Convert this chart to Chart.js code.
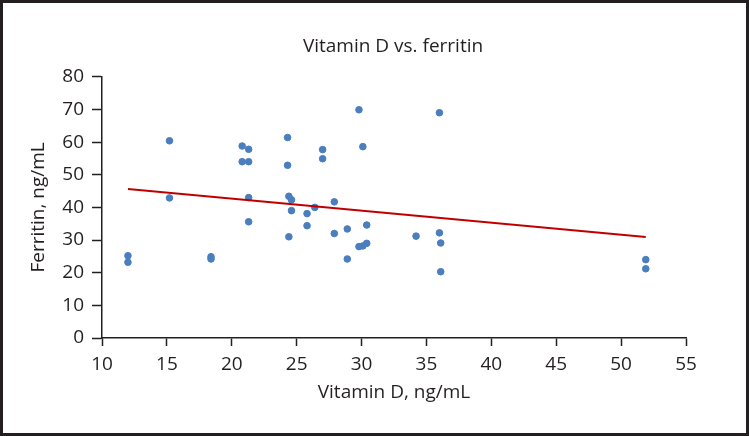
<!DOCTYPE html>
<html>
<head>
<meta charset="utf-8">
<script src="https://cdn.jsdelivr.net/npm/chart.js@4.4.1/dist/chart.umd.min.js"></script>
<style>
  html, body { margin: 0; padding: 0; background: #fff; }
  #wrap { width: 749px; height: 436px; }
</style>
</head>
<body>
<div id="wrap"><canvas id="chart" width="749" height="436"></canvas></div>
<script>
// values
const vitaminD = [
  12.0, 12.0, 15.2, 15.2, 18.4, 18.4, 20.8, 20.8, 21.3, 21.3,
  21.3, 21.3, 24.3, 24.3, 24.4, 24.6, 24.6, 24.4, 25.8, 25.8,
  26.4, 27.0, 27.0, 27.9, 27.9, 28.9, 28.9, 29.8, 29.8, 30.1,
  30.1, 30.4, 30.4, 34.2, 36.0, 36.0, 36.1, 36.1, 51.9, 51.9
]
const ferritin = [
  25.2, 23.2, 60.4, 42.9, 24.9, 24.2, 58.8, 54.0, 57.8, 54.0,
  43.0, 35.6, 61.4, 52.9, 43.4, 42.3, 39.0, 31.0, 38.1, 34.4,
  40.0, 57.7, 54.9, 41.7, 32.0, 33.4, 24.2, 69.9, 28.0, 58.6,
  28.2, 34.6, 29.0, 31.2, 69.0, 32.2, 29.1, 20.3, 24.0, 21.2
]
// trend line end points
const trendX = [12.0, 51.9]
const trendY = [45.6, 30.9]

const xTicks = [10, 15, 20, 25, 30, 35, 40, 45, 50, 55]
const yTicks = [0, 10, 20, 30, 40, 50, 60, 70, 80]

const ink = '#231f20'
const fontFamily = '"Open Sans", "Noto Sans", sans-serif'

const points = vitaminD.map((v, i) => ({ x: v, y: ferritin[i] }))
const trend = trendX.map((v, i) => ({ x: v, y: trendY[i] }))

// white background plus the dark frame round the picture
const framePlugin = {
  id: 'frame',
  beforeDraw(chart) {
    const ctx = chart.ctx
    ctx.save()
    ctx.fillStyle = '#fff'
    ctx.fillRect(0, 0, chart.width, chart.height)
    ctx.restore()
  },
  afterDraw(chart) {
    const ctx = chart.ctx
    ctx.save()
    ctx.strokeStyle = ink
    ctx.lineWidth = 3
    ctx.strokeRect(1.5, 1.5, chart.width - 3, chart.height - 3)
    ctx.restore()
  }
}

new Chart(document.getElementById('chart'), {
  data: {
    datasets: [
      {
        type: 'scatter',
        label: 'Patients',
        data: points,
        backgroundColor: '#4a7ebf',
        borderColor: '#4a7ebf',
        pointRadius: 3.3,
        order: 2
      },
      {
        type: 'line',
        label: 'Trend',
        data: trend,
        borderColor: '#c00000',
        borderWidth: 2,
        pointRadius: 0,
        fill: false,
        order: 1
      }
    ]
  },
  options: {
    responsive: false,
    animation: false,
    // side padding keeps the title centred over the plot area
    layout: { padding: { left: 50, right: 13, top: 0, bottom: 0 } },
    plugins: {
      legend: { display: false },
      tooltip: { enabled: false },
      title: {
        display: true,
        text: 'Vitamin D vs. ferritin',
        color: ink,
        font: { family: fontFamily, size: 19, weight: 'normal' },
        padding: { top: 35, bottom: 19 }
      }
    },
    scales: {
      x: {
        type: 'linear',
        min: 10,
        max: 55,
        afterBuildTicks: scale => { scale.ticks = xTicks.map(v => ({ value: v })) },
        afterFit: scale => { scale.height = 98 },
        border: { display: true, color: ink, width: 1.5 },
        grid: { drawOnChartArea: false, drawTicks: true, tickLength: 8, tickColor: ink, tickWidth: 1.5 },
        ticks: { color: ink, padding: 7, font: { family: fontFamily, size: 19 } },
        title: {
          display: true,
          text: 'Vitamin D, ng/mL',
          color: ink,
          font: { family: fontFamily, size: 19 },
          padding: { top: 0, bottom: 32 }
        }
      },
      y: {
        type: 'linear',
        min: 0,
        max: 80,
        afterBuildTicks: scale => { scale.ticks = yTicks.map(v => ({ value: v })) },
        afterFit: scale => { scale.width = 52 },
        border: { display: true, color: ink, width: 1.5 },
        grid: { drawOnChartArea: false, drawTicks: true, tickLength: 10, tickColor: ink, tickWidth: 1.5 },
        ticks: { color: ink, padding: 8, font: { family: fontFamily, size: 19 } },
        title: {
          display: true,
          text: 'Ferritin, ng/mL',
          color: ink,
          font: { family: fontFamily, size: 19 },
          padding: { top: -23, bottom: 0 }
        }
      },
      // empty right-hand spacer so the plot stops at 55 while the title stays centred
      spacer: {
        type: 'linear',
        position: 'right',
        min: 0,
        max: 80,
        afterFit: scale => { scale.width = 50 },
        border: { display: false },
        grid: { display: false },
        ticks: { display: false }
      }
    }
  },
  plugins: [framePlugin]
})
</script>
</body>
</html>
